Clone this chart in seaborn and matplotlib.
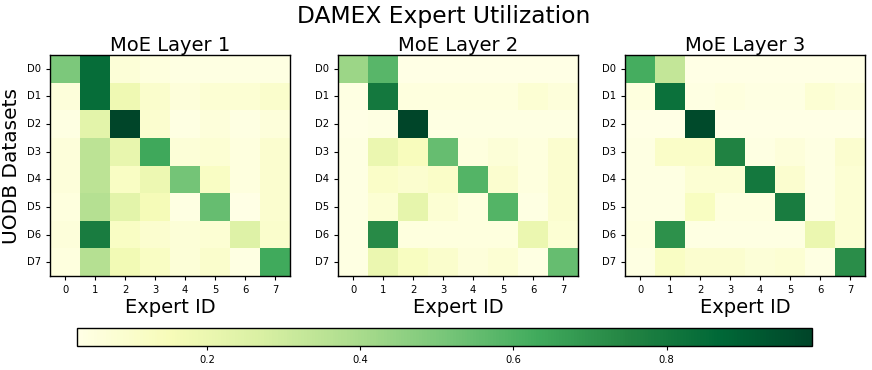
import numpy as np
import pandas as pd
import matplotlib
matplotlib.use("Agg")
import matplotlib.pyplot as plt
import seaborn as sns
from matplotlib.colors import Normalize
from matplotlib.cm import ScalarMappable

datasets = ["D0", "D1", "D2", "D3", "D4", "D5", "D6", "D7"]
experts = ["0", "1", "2", "3", "4", "5", "6", "7"]
layer_titles = ["MoE Layer 1", "MoE Layer 2", "MoE Layer 3"]

layer1 = [
    [0.50, 0.85, 0.07, 0.05, 0.04, 0.04, 0.04, 0.04],
    [0.06, 0.85, 0.18, 0.10, 0.06, 0.08, 0.08, 0.10],
    [0.04, 0.23, 0.99, 0.09, 0.04, 0.06, 0.04, 0.06],
    [0.06, 0.35, 0.21, 0.64, 0.07, 0.08, 0.05, 0.09],
    [0.06, 0.35, 0.12, 0.19, 0.52, 0.12, 0.05, 0.09],
    [0.05, 0.37, 0.23, 0.16, 0.04, 0.55, 0.03, 0.09],
    [0.06, 0.78, 0.12, 0.09, 0.07, 0.08, 0.25, 0.10],
    [0.05, 0.37, 0.17, 0.12, 0.07, 0.10, 0.04, 0.63],
]
layer2 = [
    [0.43, 0.58, 0.03, 0.03, 0.03, 0.03, 0.03, 0.03],
    [0.04, 0.80, 0.05, 0.05, 0.05, 0.05, 0.08, 0.06],
    [0.03, 0.04, 0.99, 0.04, 0.04, 0.04, 0.04, 0.04],
    [0.04, 0.20, 0.14, 0.55, 0.05, 0.07, 0.05, 0.09],
    [0.04, 0.11, 0.09, 0.11, 0.59, 0.09, 0.05, 0.09],
    [0.04, 0.08, 0.22, 0.08, 0.05, 0.59, 0.04, 0.09],
    [0.04, 0.73, 0.05, 0.05, 0.05, 0.05, 0.20, 0.08],
    [0.04, 0.20, 0.13, 0.10, 0.06, 0.08, 0.04, 0.55],
]
layer3 = [
    [0.62, 0.33, 0.03, 0.03, 0.03, 0.03, 0.03, 0.03],
    [0.05, 0.83, 0.04, 0.05, 0.04, 0.04, 0.08, 0.06],
    [0.03, 0.03, 0.97, 0.03, 0.03, 0.03, 0.03, 0.03],
    [0.04, 0.11, 0.11, 0.76, 0.04, 0.06, 0.04, 0.09],
    [0.04, 0.04, 0.08, 0.08, 0.80, 0.09, 0.04, 0.08],
    [0.04, 0.04, 0.13, 0.05, 0.05, 0.78, 0.04, 0.08],
    [0.05, 0.71, 0.04, 0.04, 0.04, 0.04, 0.20, 0.08],
    [0.04, 0.12, 0.09, 0.09, 0.07, 0.08, 0.04, 0.72],
]
layers = [layer1, layer2, layer3]

vmin = min(np.min(l) for l in layers)
vmax = max(np.max(l) for l in layers)

fig = plt.figure(figsize=(8.72, 3.7), dpi=100)
lefts = [50 / 872, 338 / 872, 625 / 872]
for i, (data, title) in enumerate(zip(layers, layer_titles)):
    ax = fig.add_axes([lefts[i], 1 - 276 / 370, 240 / 872, 221 / 370])
    df = pd.DataFrame(data, index=datasets, columns=experts)
    sns.heatmap(df, ax=ax, cmap="YlGn", vmin=vmin, vmax=vmax, cbar=False)
    for s in ax.spines.values():
        s.set_visible(True)
        s.set_color("black")
        s.set_linewidth(1.0)
    ax.set_title(title, fontsize=14, pad=3)
    ax.set_xlabel("Expert ID", fontsize=14, labelpad=2)
    ax.tick_params(axis="both", labelsize=7.2, length=3)
    ax.set_yticklabels(datasets, rotation=0)
    ax.set_xticklabels(experts, rotation=0)
    if i == 0:
        ax.set_ylabel("UODB Datasets", fontsize=14.5, labelpad=4)
    else:
        ax.set_ylabel("")

cax = fig.add_axes([77 / 872, 1 - 346 / 370, 735 / 872, 18 / 370])
sm = ScalarMappable(norm=Normalize(vmin=vmin, vmax=vmax), cmap="YlGn")
cb = fig.colorbar(sm, cax=cax, orientation="horizontal")
cb.set_ticks([0.2, 0.4, 0.6, 0.8])
cb.ax.tick_params(labelsize=7.2, length=3)
cb.outline.set_linewidth(1.0)

fig.text(444 / 872, 1 - 17 / 370, "DAMEX Expert Utilization", ha="center", va="center", fontsize=16.8)

fig.savefig("out.png", dpi=100)
